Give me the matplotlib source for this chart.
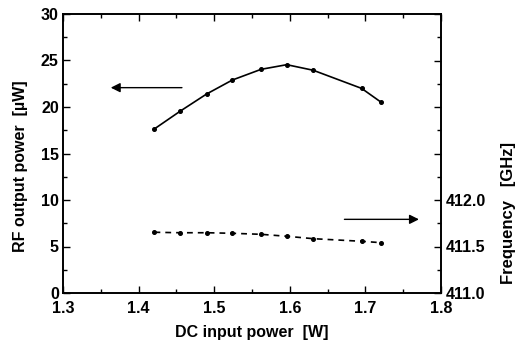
import matplotlib.pyplot as plt
import numpy as np
from matplotlib.ticker import MultipleLocator, FixedLocator, FixedFormatter

plt.rcParams['font.family'] = ['Liberation Sans', 'DejaVu Sans']
plt.rcParams['font.weight'] = 'bold'

# data
dc_power = [1.421, 1.455, 1.490, 1.524, 1.562, 1.596, 1.631, 1.695, 1.721]
rf_power = [17.65, 19.55, 21.4, 22.9, 24.05, 24.55, 23.95, 22.0, 20.5]
frequency = [411.653, 411.648, 411.648, 411.642, 411.631, 411.610, 411.584, 411.556, 411.541]

fig = plt.figure(figsize=(5.17, 3.44), dpi=100)
ax = fig.add_axes([63/517, 1 - 293/344, (441 - 63)/517, (293 - 14)/344])
ax2 = ax.twinx()

ax.plot(dc_power, rf_power, '-', color='black', lw=1.2, marker='o', ms=2.6)
ax2.plot(dc_power, frequency, '--', color='black', lw=1.2, marker='o', ms=2.6,
         dashes=(3.5, 3))

ax.set_xlim(1.3, 1.8)
ax.set_ylim(0, 30)
ax2.set_ylim(411.0, 414.0)

ax.xaxis.set_major_locator(MultipleLocator(0.1))
ax.xaxis.set_minor_locator(MultipleLocator(0.05))
ax.yaxis.set_major_locator(MultipleLocator(5))
ax.yaxis.set_minor_locator(MultipleLocator(2.5))
ax.xaxis.set_major_formatter(plt.FuncFormatter(lambda v, p: '%.1f' % v))

freq_ticks = np.arange(411.0, 414.01, 0.5)
ax2.yaxis.set_major_locator(FixedLocator(freq_ticks))
ax2.yaxis.set_major_formatter(FixedFormatter(['411.0', '411.5', '412.0', '', '', '', '']))
ax2.yaxis.set_minor_locator(MultipleLocator(0.25))

for a in (ax, ax2):
    a.tick_params(which='both', direction='in', width=1.0, labelsize=11.5)
    a.tick_params(which='major', length=5)
    a.tick_params(which='minor', length=3)
    for s in a.spines.values():
        s.set_linewidth(1.2)
ax.tick_params(which='both', top=True, right=False)
ax.tick_params(axis='y', pad=3)
ax.tick_params(axis='x', pad=6)

ax.set_xlabel('DC input power  [W]', fontsize=11.5, fontweight='bold')
ax.xaxis.set_label_coords(0.5, -0.113)
ax.set_ylabel('RF output power  [\u00b5W]', fontsize=11.5, fontweight='bold')
ax.yaxis.set_label_coords(-0.093, 0.455)
ax2.set_ylabel('Frequency   [GHz]', fontsize=12, fontweight='bold')
ax2.yaxis.set_label_coords(1.16, 0.287)

# direction arrows
ax.annotate('', xy=(1.3595, 22.08), xytext=(1.461, 22.08),
            arrowprops=dict(arrowstyle='-|>', color='black', lw=1.0,
                            mutation_scale=14))
ax.annotate('', xy=(1.7745, 7.92), xytext=(1.6686, 7.92),
            arrowprops=dict(arrowstyle='-|>', color='black', lw=1.0,
                            mutation_scale=14))

fig.savefig('out.png', dpi=100)
